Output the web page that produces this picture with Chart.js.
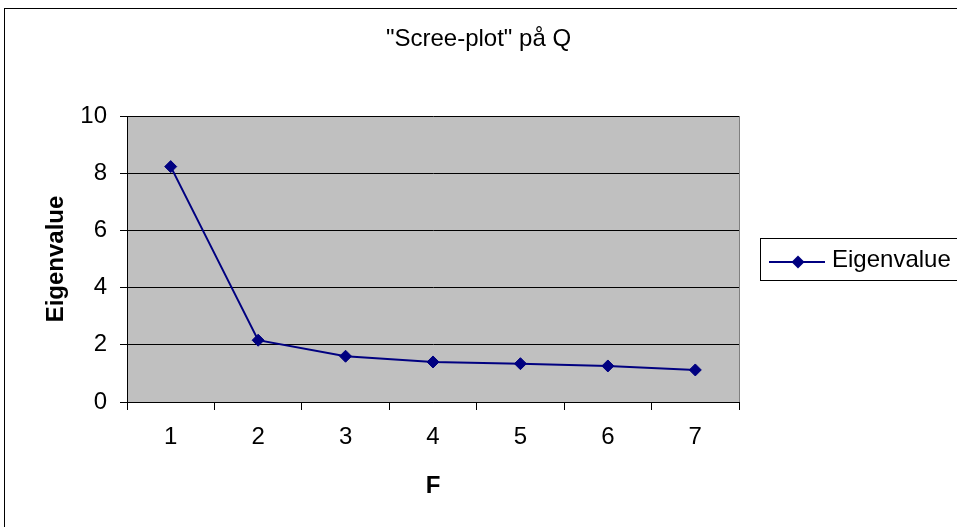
<!DOCTYPE html>
<html>
<head>
<meta charset="utf-8">
<script src="https://cdn.jsdelivr.net/npm/chart.js@4.4.1/dist/chart.umd.min.js"></script>
<style>
html,body{margin:0;padding:0;background:#fff;overflow:hidden;}
#wrap{position:relative;width:957px;height:527px;}
</style>
</head>
<body>
<div id="wrap"><canvas id="c" width="957" height="527"></canvas></div>
<script>
const categories = ["1","2","3","4","5","6","7"];
const eigenvalues = [8.23, 2.16, 1.60, 1.40, 1.34, 1.26, 1.12];
const yTicks = [0, 2, 4, 6, 8, 10];
const seriesName = "Eigenvalue";
const chartTitle = '"Scree-plot" på Q';
const xTitle = "F";
const yTitle = "Eigenvalue";

const FONT = "'Liberation Sans', Arial, sans-serif";
const LINE = "#000080";

const decor = {
  id: 'decor',
  beforeDraw(chart) {
    const {ctx, chartArea: a} = chart;
    ctx.save();
    ctx.fillStyle = '#fff';
    ctx.fillRect(0, 0, chart.width, chart.height);
    ctx.fillStyle = '#C0C0C0';
    ctx.fillRect(a.left, a.top, a.right - a.left, a.bottom - a.top);
    ctx.strokeStyle = '#000';
    ctx.lineWidth = 1;
    ctx.strokeRect(4.5, 8.5, 1200, 800);
    ctx.restore();
  },
  afterDraw(chart) {
    const {ctx, chartArea: a} = chart;
    ctx.save();
    ctx.strokeStyle = '#808080';
    ctx.lineWidth = 1;
    ctx.beginPath();
    ctx.moveTo(Math.round(a.right) + 0.5, a.top);
    ctx.lineTo(Math.round(a.right) + 0.5, a.bottom);
    ctx.stroke();
    // legend
    const ds = chart.data.datasets[0];
    ctx.strokeStyle = '#000';
    ctx.strokeRect(760.5, 238.5, 400, 42);
    const ly = 262;
    ctx.strokeStyle = ds.borderColor;
    ctx.lineWidth = 2;
    ctx.beginPath();
    ctx.moveTo(769, ly);
    ctx.lineTo(825, ly);
    ctx.stroke();
    ctx.fillStyle = ds.pointBackgroundColor;
    const r = 6.5;
    ctx.beginPath();
    ctx.moveTo(798, ly - r);
    ctx.lineTo(798 + r, ly);
    ctx.lineTo(798, ly + r);
    ctx.lineTo(798 - r, ly);
    ctx.closePath();
    ctx.fill();
    ctx.fillStyle = '#000';
    ctx.font = "24px " + FONT;
    ctx.textBaseline = 'alphabetic';
    ctx.textAlign = 'left';
    ctx.fillText(ds.label, 832, 267);
    ctx.restore();
  }
};

new Chart(document.getElementById('c'), {
  type: 'line',
  data: {
    labels: categories,
    datasets: [{
      label: seriesName,
      data: eigenvalues,
      borderColor: LINE,
      backgroundColor: LINE,
      pointBackgroundColor: LINE,
      pointBorderColor: LINE,
      borderWidth: 2,
      pointStyle: 'rectRot',
      pointRadius: 6,
      pointBorderWidth: 1,
      tension: 0,
      yAxisID: 'y'
    }]
  },
  options: {
    responsive: false,
    animation: false,
    devicePixelRatio: 1,
    layout: { padding: 0 },
    plugins: {
      legend: { display: false },
      tooltip: { enabled: false },
      title: {
        display: true,
        text: chartTitle,
        color: '#000',
        font: { family: FONT, size: 24, weight: 'normal', lineHeight: 1.2 },
        padding: { top: 25, bottom: 62.2 },
        align: 'center'
      }
    },
    scales: {
      x: {
        type: 'category',
        offset: true,
        afterFit(s) { s.height = 125; },
        grid: { display: true, drawOnChartArea: false, drawTicks: true, tickLength: 8, offset: true, color: '#000', lineWidth: 1 },
        border: { display: true, color: '#000', width: 1 },
        ticks: { color: '#000', font: { family: FONT, size: 24 }, padding: 13, maxRotation: 0 },
        title: { display: true, text: xTitle, color: '#000', font: { family: FONT, size: 24, weight: 'bold', lineHeight: 1.2 }, padding: { top: 0, bottom: 26 } }
      },
      y: {
        min: 0, max: 10,
        afterFit(s) { s.width = 127; },
        afterBuildTicks(s) { s.ticks = yTicks.map(v => ({ value: v })); },
        grid: { display: true, drawOnChartArea: true, drawTicks: true, tickLength: 7, color: '#000', lineWidth: 1 },
        border: { display: true, color: '#000', width: 1 },
        ticks: { color: '#000', font: { family: FONT, size: 24 }, padding: 13 },
        title: { display: true, text: yTitle, color: '#000', font: { family: FONT, size: 24, weight: 'bold', lineHeight: 1.2 }, padding: { top: 41.6, bottom: 0 } }
      },
      legendSpace: {
        type: 'linear',
        position: 'right',
        display: true,
        afterFit(s) { s.width = 218; },
        grid: { display: false, drawOnChartArea: false, drawTicks: false },
        border: { display: false },
        ticks: { display: false },
        title: { display: false }
      }
    }
  },
  plugins: [decor]
});
</script>
</body>
</html>
